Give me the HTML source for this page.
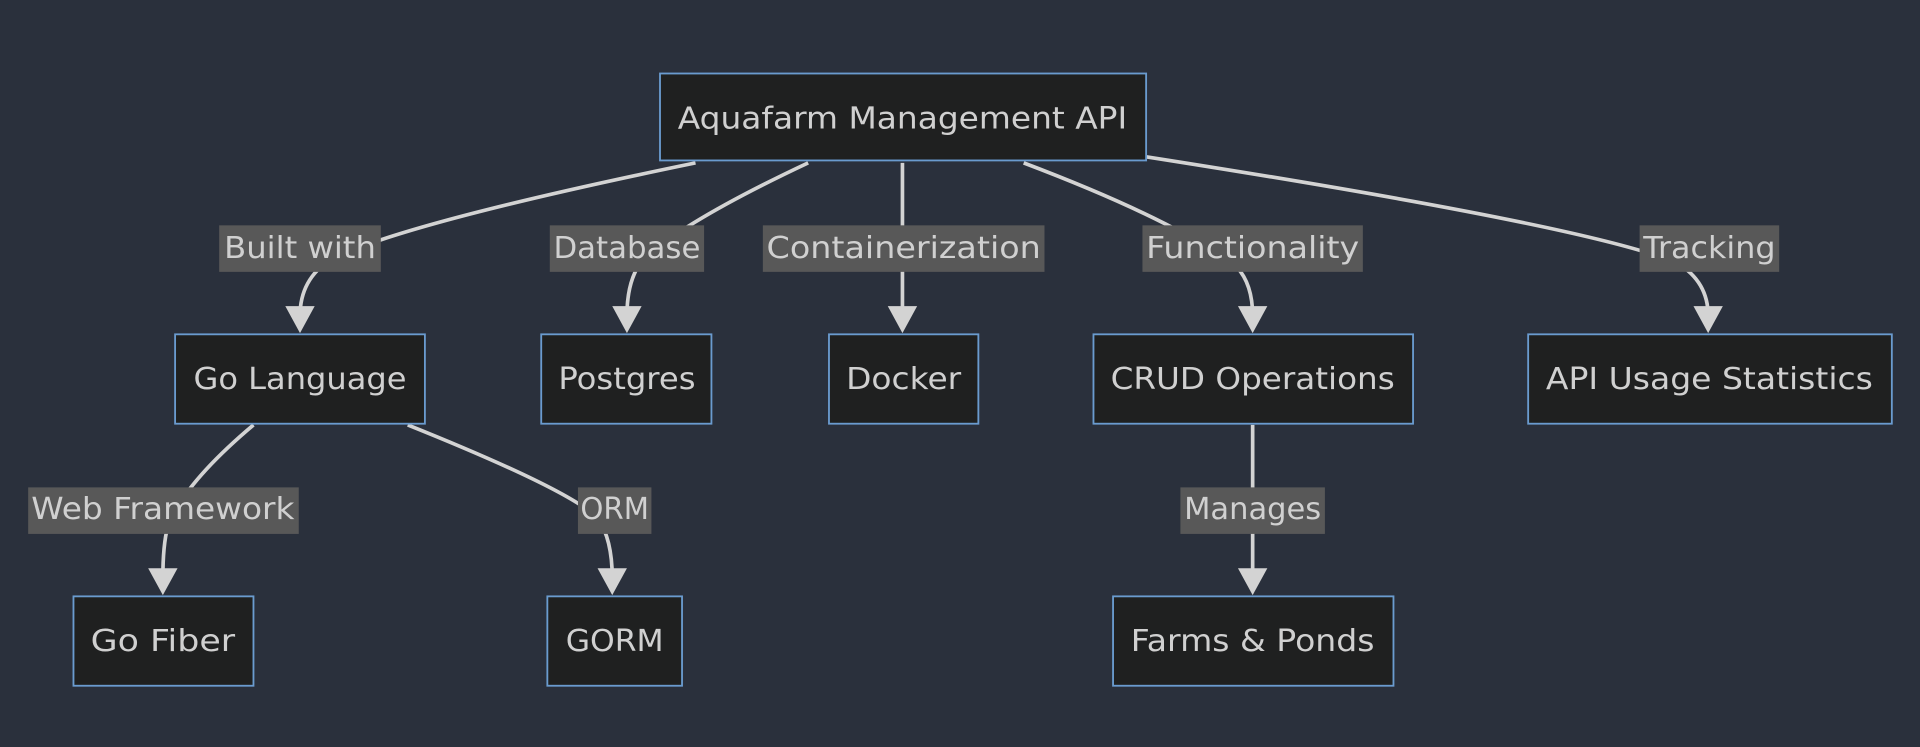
<!DOCTYPE html>
<html><head><meta charset="utf-8"><style>
html,body{margin:0;padding:0;background:#2a303c;width:1920px;height:747px;overflow:hidden}
svg{display:block}
text{font-family:"DejaVu Sans","Liberation Sans",sans-serif;font-size:25px;fill:#d0d0d0;dominant-baseline:central;text-anchor:middle}
.n{fill:#1f2020;stroke:#6a9bcf;stroke-width:1.5}
.e{fill:none;stroke:#d3d3d3;stroke-width:3}
.l{fill:#585858}
.a{fill:#d3d3d3}
</style></head><body>
<svg width="1920" height="747" viewBox="0 0 1568 610" xmlns="http://www.w3.org/2000/svg">
<rect width="1568" height="610" fill="#2a303c"/>
<!-- edges -->
<path class="e" d="M568,133 Q 330,182 270,212 Q 245,228 245,258"/>
<path class="e" d="M660,133 Q 560,180 525,212 Q 512,228 512,258"/>
<path class="e" d="M737,133 L737,258"/>
<path class="e" d="M836,133 Q 960,180 1010,218 Q 1023,232 1023,258"/>
<path class="e" d="M936,128 Q 1300,185 1370,215 Q 1395,230 1395,258"/>
<path class="e" d="M207,347 Q 150,395 137,430 Q 133,445 133,472"/>
<path class="e" d="M333,347 Q 465,400 488,423 Q 500,440 500,472"/>
<path class="e" d="M1023,347 L1023,472"/>
<!-- arrows -->
<polygon class="a" points="233,250 257,250 245,272"/>
<polygon class="a" points="500,250 524,250 512,272"/>
<polygon class="a" points="725,250 749,250 737,272"/>
<polygon class="a" points="1011,250 1035,250 1023,272"/>
<polygon class="a" points="1383,250 1407,250 1395,272"/>
<polygon class="a" points="121,464 145,464 133,486"/>
<polygon class="a" points="488,464 512,464 500,486"/>
<polygon class="a" points="1011,464 1035,464 1023,486"/>
<!-- labels -->
<rect class="l" x="179" y="184" width="132" height="38"/><text x="245" y="203" textLength="124" lengthAdjust="spacingAndGlyphs">Built with</text>
<rect class="l" x="449" y="184" width="126" height="38"/><text x="512" y="203" textLength="120" lengthAdjust="spacingAndGlyphs">Database</text>
<rect class="l" x="623" y="184" width="230" height="38"/><text x="738" y="203" textLength="224" lengthAdjust="spacingAndGlyphs">Containerization</text>
<rect class="l" x="933" y="184" width="180" height="38"/><text x="1023" y="203" textLength="174" lengthAdjust="spacingAndGlyphs">Functionality</text>
<rect class="l" x="1339" y="184" width="114" height="38"/><text x="1396" y="203" textLength="108" lengthAdjust="spacingAndGlyphs">Tracking</text>
<rect class="l" x="23" y="398" width="221" height="38"/><text x="133" y="416" textLength="215" lengthAdjust="spacingAndGlyphs">Web Framework</text>
<rect class="l" x="472" y="398" width="60" height="38"/><text x="502" y="416" textLength="56" lengthAdjust="spacingAndGlyphs">ORM</text>
<rect class="l" x="964" y="398" width="118" height="38"/><text x="1023" y="416" textLength="112" lengthAdjust="spacingAndGlyphs">Manages</text>
<!-- nodes -->
<rect class="n" x="539" y="60" width="397" height="71"/><text x="737" y="97" textLength="367" lengthAdjust="spacingAndGlyphs">Aquafarm Management API</text>
<rect class="n" x="143" y="273" width="204" height="73"/><text x="245" y="310" textLength="174" lengthAdjust="spacingAndGlyphs">Go Language</text>
<rect class="n" x="442" y="273" width="139" height="73"/><text x="512" y="310" textLength="112" lengthAdjust="spacingAndGlyphs">Postgres</text>
<rect class="n" x="677" y="273" width="122" height="73"/><text x="738" y="310" textLength="94" lengthAdjust="spacingAndGlyphs">Docker</text>
<rect class="n" x="893" y="273" width="261" height="73"/><text x="1023" y="310" textLength="232" lengthAdjust="spacingAndGlyphs">CRUD Operations</text>
<rect class="n" x="1248" y="273" width="297" height="73"/><text x="1396" y="310" textLength="267" lengthAdjust="spacingAndGlyphs">API Usage Statistics</text>
<rect class="n" x="60" y="487" width="147" height="73"/><text x="133" y="524" textLength="118" lengthAdjust="spacingAndGlyphs">Go Fiber</text>
<rect class="n" x="447" y="487" width="110" height="73"/><text x="502" y="524" textLength="80" lengthAdjust="spacingAndGlyphs">GORM</text>
<rect class="n" x="909" y="487" width="229" height="73"/><text x="1023" y="524" textLength="199" lengthAdjust="spacingAndGlyphs">Farms &amp; Ponds</text>
</svg>
</body></html>
